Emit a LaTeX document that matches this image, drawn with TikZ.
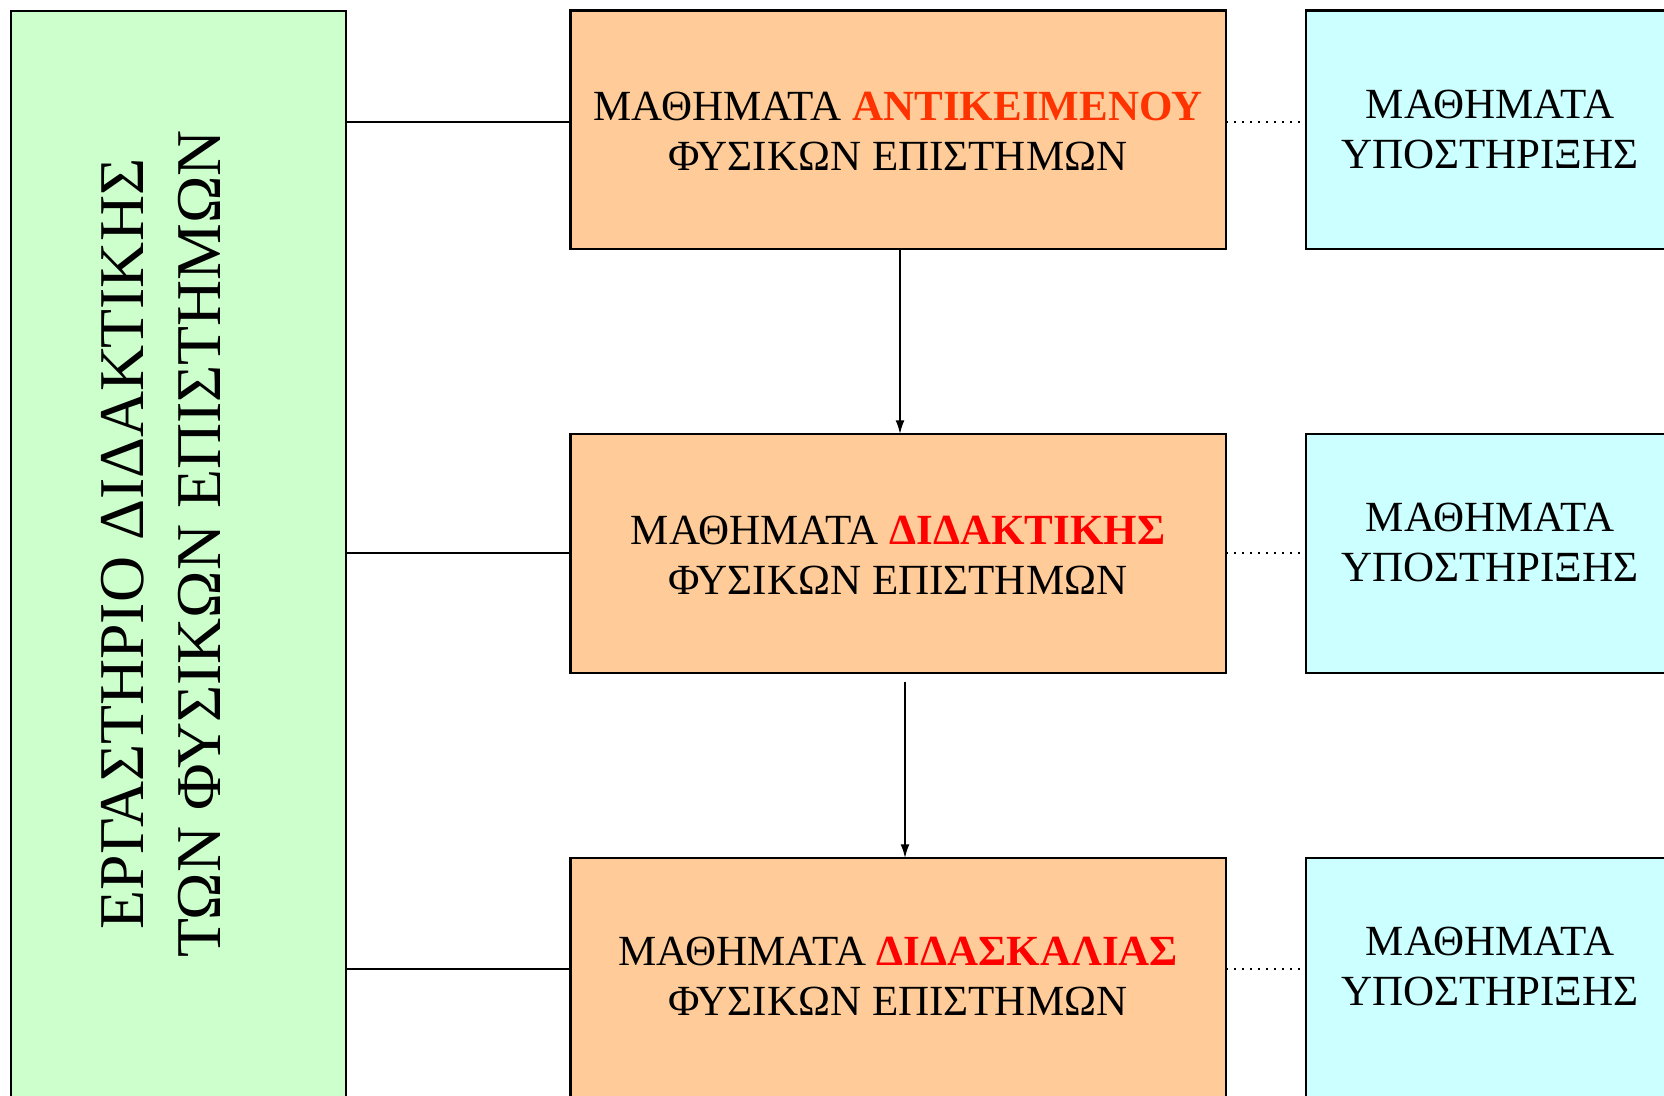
\documentclass[tikz,border=0pt]{standalone}
\usepackage{fontspec}
\setmainfont{Liberation Serif}
\usetikzlibrary{arrows.meta,calc}
\definecolor{peach}{HTML}{FFCC99}
\definecolor{mint}{HTML}{CCFFCC}
\definecolor{skyc}{HTML}{CCFFFF}
\definecolor{redA}{HTML}{FF3300}
\definecolor{redB}{HTML}{FF0000}
\tikzset{
  boxbase/.style={draw=black, line width=2.2pt, rectangle, inner sep=0pt, outer sep=0pt},
  orangebox/.style={boxbase, fill=peach, minimum width=655.5pt, minimum height=238.5pt},
  cyanbox/.style={boxbase, fill=skyc, minimum width=374pt, minimum height=238.5pt},
  greenbox/.style={boxbase, fill=mint, minimum width=335.4pt, minimum height=1099.4pt},
  boxtext/.style={font={\fontsize{43}{50}\selectfont}, align=center, inner sep=0pt},
  sidetext/.style={font={\fontsize{63.8}{77}\selectfont}, align=center, inner sep=0pt, rotate=90},
  solidlink/.style={line width=2pt, draw=black},
  dotlink/.style={line width=2pt, draw=black, dash pattern=on 2pt off 6pt},
  arr/.style={line width=2pt, draw=black, -{Latex[length=14pt,width=9pt]}}
}
\begin{document}
\begin{tikzpicture}[x=1pt,y=-1pt]
\useasboundingbox (0,0) rectangle (1664,1095);
% boxes
\node[greenbox] (g) at (178.3,560.3) {};
\node[orangebox] (o1) at (898.3,129.8) {};
\node[orangebox] (o2) at (898.3,553.5) {};
\node[orangebox] (o3) at (898.3,977.5) {};
\node[cyanbox] (c1) at (1493,129.8) {};
\node[cyanbox] (c2) at (1493,553.5) {};
\node[cyanbox] (c3) at (1493,977.5) {};
% texts
\node[sidetext] (gt) at (161,544) {ΕΡΓΑΣΤΗΡΙΟ ΔΙΔΑΚΤΙΚΗΣ\\ΤΩΝ ΦΥΣΙΚΩΝ ΕΠΙΣΤΗΜΩΝ};
\node[boxtext] (o1t) at (898,131) {ΜΑΘΗΜΑΤΑ {\bfseries\color{redA}ΑΝΤΙΚΕΙΜΕΝΟΥ}\\ΦΥΣΙΚΩΝ ΕΠΙΣΤΗΜΩΝ};
\node[boxtext] (o2t) at (898,555.5) {ΜΑΘΗΜΑΤΑ {\bfseries\color{redB}ΔΙΔΑΚΤΙΚΗΣ}\\ΦΥΣΙΚΩΝ ΕΠΙΣΤΗΜΩΝ};
\node[boxtext] (o3t) at (898,976) {ΜΑΘΗΜΑΤΑ {\bfseries\color{redB}ΔΙΔΑΣΚΑΛΙΑΣ}\\ΦΥΣΙΚΩΝ ΕΠΙΣΤΗΜΩΝ};
\node[boxtext] (c1t) at (1490,129.5) {ΜΑΘΗΜΑΤΑ\\ΥΠΟΣΤΗΡΙΞΗΣ};
\node[boxtext] (c2t) at (1490,542) {ΜΑΘΗΜΑΤΑ\\ΥΠΟΣΤΗΡΙΞΗΣ};
\node[boxtext] (c3t) at (1490,966) {ΜΑΘΗΜΑΤΑ\\ΥΠΟΣΤΗΡΙΞΗΣ};
% connector levels
\coordinate (L1) at (0,122);
\coordinate (L2) at (0,553);
\coordinate (L3) at (0,969);
\draw[solidlink] (g.east |- L1) -- (o1.west |- L1);
\draw[solidlink] (g.east |- L2) -- (o2.west |- L2);
\draw[solidlink] (g.east |- L3) -- (o3.west |- L3);
\draw[dotlink] (o1.east |- L1) -- ($(c1.west |- L1)+(-5,0)$);
\draw[dotlink] (o2.east |- L2) -- ($(c2.west |- L2)+(-5,0)$);
\draw[dotlink] (o3.east |- L3) -- ($(c3.west |- L3)+(-5,0)$);
% arrows
\coordinate (A1) at (900,0);
\coordinate (A2s) at (905,682);
\draw[arr] (o1.south -| A1) -- (o2.north -| A1);
\draw[arr] (A2s) -- (o3.north -| A2s);
\end{tikzpicture}
\end{document}
